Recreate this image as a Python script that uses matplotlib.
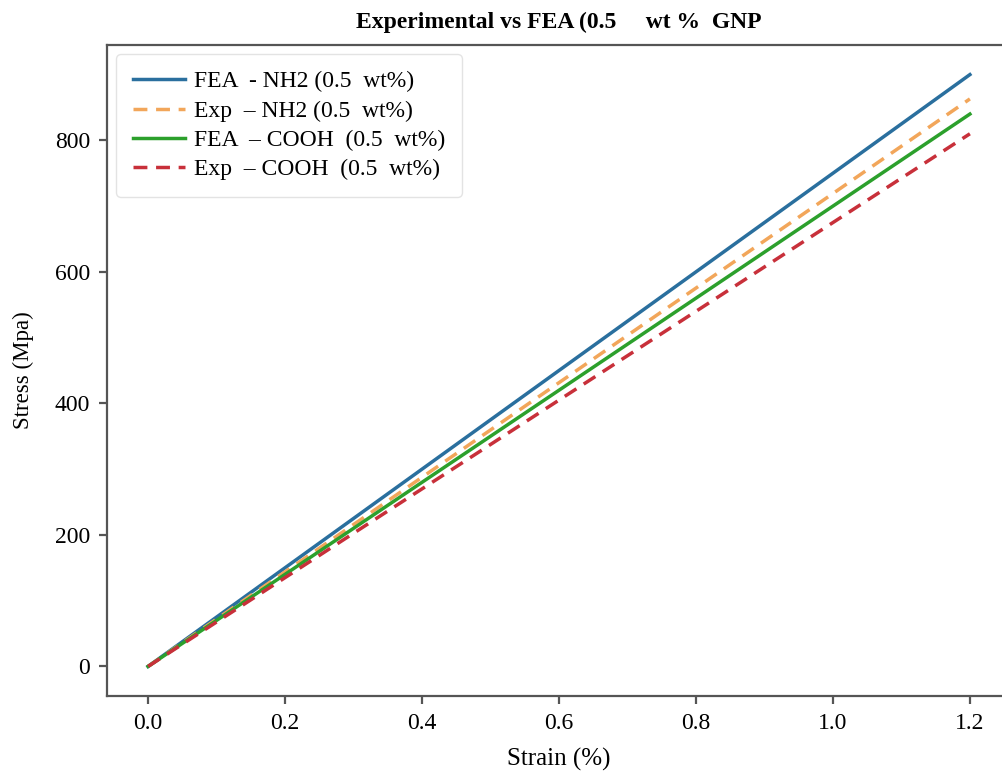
import matplotlib.pyplot as plt

# strain (%) and stress (MPa)
strain = [0.0, 1.2]
fea_nh2 = [0, 900]
exp_nh2 = [0, 863]
fea_cooh = [0, 840]
exp_cooh = [0, 810]

labels = ["FEA  - NH2 (0.5  wt%)", "Exp  – NH2 (0.5  wt%)",
          "FEA  – COOH  (0.5  wt%)", "Exp  – COOH  (0.5  wt%)"]

plt.rcParams["font.family"] = ["Liberation Serif", "DejaVu Serif"]

fig = plt.figure(figsize=(10.02, 7.78), dpi=100)
# axes runs past the right edge of the image, like the reference crop
ax = fig.add_axes([107 / 1002, 82 / 778, 904 / 1002, 651 / 778])

ax.plot(strain, fea_nh2, color="#2a6f9e", lw=2.5, label=labels[0])
ax.plot(strain, exp_nh2, color="#f2a65a", lw=2.5, ls=(0, (4, 2.5)), label=labels[1])
ax.plot(strain, fea_cooh, color="#2ca02c", lw=2.5, label=labels[2])
ax.plot(strain, exp_cooh, color="#c8303a", lw=2.5, ls=(0, (4, 2.5)), label=labels[3])

ax.set_xticks([0.0, 0.2, 0.4, 0.6, 0.8, 1.0, 1.2])
ax.set_yticks([0, 200, 400, 600, 800])
ax.tick_params(labelsize=17, length=6, width=1.6, color="#555555", pad=6)
for s in ax.spines.values():
    s.set_color("#555555")
    s.set_linewidth(1.6)
ax.spines["right"].set_visible(False)

ax.set_xlabel("Strain (%)", fontsize=18, labelpad=10)
ax.set_ylabel("Stress (Mpa)", fontsize=16.5, labelpad=15)
ax.set_title("Experimental vs FEA (0.5     wt %  GNP", fontsize=17, fontweight="bold", pad=12)

ax.legend(loc="upper left", fontsize=17, handlelength=2.2, handletextpad=0.4,
          labelspacing=0.33, borderaxespad=0.4, borderpad=0.7, frameon=True,
          edgecolor="#dddddd", fancybox=True)

fig.savefig("out.png", dpi=100)
